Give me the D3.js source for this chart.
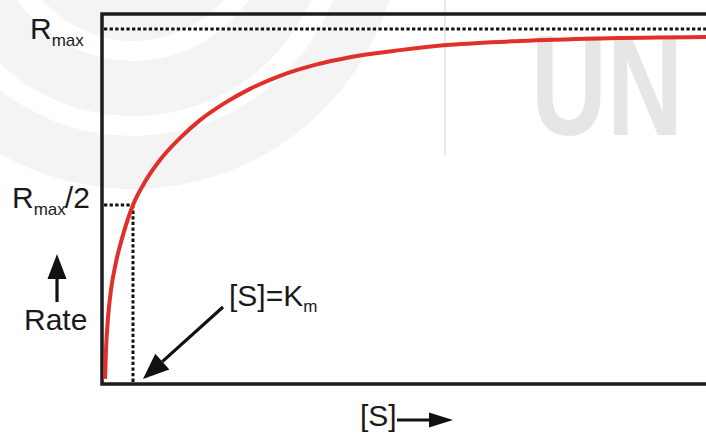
<!DOCTYPE html>
<html>
<head>
<meta charset="utf-8">
<script src="https://cdn.jsdelivr.net/npm/d3@7/dist/d3.min.js"></script>
<style>
  html, body { margin: 0; padding: 0; background: #ffffff; }
  svg { display: block; }
  text { font-family: "Liberation Sans", Arial, sans-serif; fill: #1a1a1a; }
</style>
</head>
<body>
<svg id="chart" width="706" height="433"></svg>
<script>
// ---- data (S in arbitrary units, rate as fraction of Rmax) ----
const substrate = [0.5, 0.66, 0.99, 1.49, 2.32, 3.48, 5.13, 7.12, 9.60, 12.91, 16.23, 20.36, 24.50, 29.47, 35.26, 41.06, 49.34, 57.62, 69.21, 82.45, 100];
const rate      = [0.006, 0.088, 0.179, 0.259, 0.338, 0.415, 0.5, 0.566, 0.628, 0.690, 0.741, 0.790, 0.830, 0.867, 0.898, 0.920, 0.940, 0.955, 0.966, 0.973, 0.977];
const Rmax = 1.0;
const Km = 5.13;
const labels = { rmax: "R", sub: "max", half: "/2", rate: "Rate", km: "[S]=K", kmSub: "m", s: "[S]", mark: "UN" };

const svg = d3.select("#chart");
const W = 706, H = 433;

// scales
const x = d3.scaleLinear().domain([0, 100]).range([102, 706]);
const y = d3.scaleLinear().domain([0, Rmax]).range([381, 29]);

// ---- watermark ----
const wm = svg.append("g");
const ringArc = d3.arc();
const cx = 133, cy = -79;
const rings = [[60, 120], [140, 195], [215, 268]];
rings.forEach(r => {
  wm.append("path")
    .attr("transform", `translate(${cx},${cy})`)
    .attr("d", ringArc({innerRadius: r[0], outerRadius: r[1], startAngle: 0, endAngle: 2 * Math.PI}))
    .attr("fill", "#f4f4f4");
});
wm.append("line").attr("x1", 445).attr("x2", 445).attr("y1", 0).attr("y2", 155)
  .attr("stroke", "#e2e2e2").attr("stroke-width", 1.5);
wm.append("text").attr("transform", "translate(531,135) scale(0.74,1)")
  .attr("font-size", 142).attr("font-weight", "bold")
  .style("fill", "#e6e6e6").text(labels.mark);

// ---- frame ----
const frame = svg.append("g");
frame.append("path")
  .attr("d", `M${x(100) + 20},${y(0) - 367} H${x(0)} V${y(0) + 3} H${x(100) + 20}`)
  .attr("fill", "none").attr("stroke", "#1c1c1c").attr("stroke-width", 3.5);

// ---- dotted guides ----
const dot = { stroke: "#111", "stroke-width": 3, "stroke-dasharray": "3.3,2.3" };
function dotted(x1, y1, x2, y2) {
  const l = svg.append("line").attr("x1", x1).attr("y1", y1).attr("x2", x2).attr("y2", y2);
  Object.entries(dot).forEach(([k, v]) => l.attr(k, v));
}
dotted(x(0) + 2, y(Rmax), W, y(Rmax));
dotted(x(0) + 2, y(Rmax / 2), x(Km), y(Rmax / 2));
dotted(x(Km), y(Rmax / 2), x(Km), y(0) + 2);

// ---- curve ----
const pts = substrate.map((s, i) => [s, rate[i]]);
const line = d3.line().x(d => x(d[0])).y(d => y(d[1])).curve(d3.curveMonotoneX);
svg.append("path").datum(pts).attr("d", line)
  .attr("fill", "none").attr("stroke", "#e0302a").attr("stroke-width", 4)
  .attr("stroke-linecap", "butt");

// ---- labels ----
function subLabel(xp, yp, main, sub, tail) {
  const t = svg.append("text").attr("x", xp).attr("y", yp).attr("font-size", 30);
  t.append("tspan").text(main);
  t.append("tspan").attr("font-size", 17).attr("dy", 7).text(sub);
  if (tail) t.append("tspan").attr("dy", -7).attr("dx", -1).text(tail);
  return t;
}
subLabel(30, y(Rmax) + 10, labels.rmax, labels.sub);
subLabel(12, y(Rmax / 2) + 3, labels.rmax, labels.sub, labels.half);

svg.append("text").attr("x", 24).attr("y", 330).attr("font-size", 30).text(labels.rate);
// up arrow
svg.append("line").attr("x1", 57).attr("x2", 57).attr("y1", 302).attr("y2", 272)
  .attr("stroke", "#111").attr("stroke-width", 3.2);
svg.append("path").attr("d", "M57,254 L47.5,279 L66.5,279 Z").attr("fill", "#111");

// Km label and arrow
const kmT = svg.append("text").attr("x", 229).attr("y", 306).attr("font-size", 30);
kmT.append("tspan").text(labels.km);
kmT.append("tspan").attr("font-size", 17).attr("dy", 6).text(labels.kmSub);

const tip = [x(Km) + 10, y(0) - 2];
const start = [223, 307];
const ang = Math.atan2(tip[1] - start[1], tip[0] - start[0]);
const hl = 26, hw = 10.5;
const base = [tip[0] - hl * Math.cos(ang), tip[1] - hl * Math.sin(ang)];
svg.append("line").attr("x1", start[0]).attr("y1", start[1]).attr("x2", base[0]).attr("y2", base[1])
  .attr("stroke", "#111").attr("stroke-width", 3.2);
svg.append("path").attr("d",
  `M${tip[0]},${tip[1]} L${base[0] + hw * Math.sin(ang)},${base[1] - hw * Math.cos(ang)} L${base[0] - hw * Math.sin(ang)},${base[1] + hw * Math.cos(ang)} Z`)
  .attr("fill", "#111");

// [S] label and right arrow
svg.append("text").attr("x", 360).attr("y", 426).attr("font-size", 30).text(labels.s);
svg.append("line").attr("x1", 397).attr("x2", 432).attr("y1", 420).attr("y2", 420)
  .attr("stroke", "#111").attr("stroke-width", 3.2);
svg.append("path").attr("d", "M453,420 L429,412.5 L429,427.5 Z").attr("fill", "#111");
</script>
</body>
</html>
